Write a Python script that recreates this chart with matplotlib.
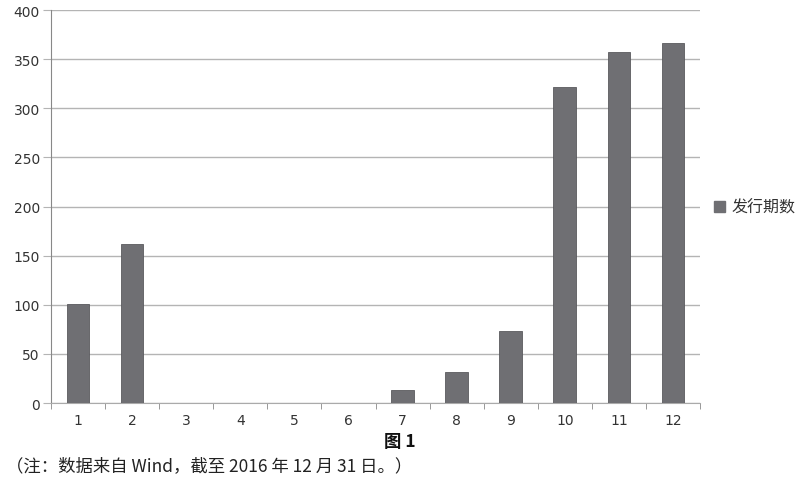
import matplotlib
matplotlib.use('Agg')
from matplotlib import pyplot as plt
from matplotlib.patches import Patch
import numpy as np

plt.rcParams['font.family'] = ['Noto Sans CJK SC', 'DejaVu Sans']

months = ['1', '2', '3', '4', '5', '6', '7', '8', '9', '10', '11', '12']
issues = [101, 162, 0, 0, 0, 0, 13, 32, 73, 322, 357, 366]
series_name = '发行期数'
y_ticks = [0, 50, 100, 150, 200, 250, 300, 350, 400]

BAR = '#6f6f73'
GRID = '#b4b4b4'

fig = plt.figure(figsize=(8, 4.89), dpi=100)
ax = fig.add_axes([0.06375, 0.1738, 0.81125, 0.8037])

x = np.arange(len(months))
ax.bar(x, issues, width=0.42, color=BAR, edgecolor='#5a5a5e', linewidth=0.6, zorder=3)

ax.set_xlim(-0.5, len(months) - 0.5)
ax.set_ylim(0, 400)
ax.set_yticks(y_ticks)
ax.set_yticklabels([str(v) for v in y_ticks], fontsize=10, color='#333333', family='DejaVu Sans')
ax.yaxis.grid(True, color=GRID, linewidth=1.0, zorder=0)
ax.tick_params(axis='y', length=6, color=GRID, pad=2)

# category labels centred, ticks on the boundaries
ax.set_xticks(x)
ax.set_xticklabels(months, fontsize=10, color='#333333', family='DejaVu Sans')
ax.tick_params(axis='x', length=0, pad=7)
ax.set_xticks(np.arange(-0.5, len(months)), minor=True)
ax.tick_params(axis='x', which='minor', length=4, color='#888888', direction='out')

for side in ['top', 'right']:
    ax.spines[side].set_visible(False)
ax.spines['left'].set_color('#888888')
ax.spines['bottom'].set_color('#aaaaaa')

handle = Patch(facecolor=BAR, edgecolor=BAR)
fig.legend([handle], [series_name], loc='center left', bbox_to_anchor=(0.874, 0.574),
           frameon=False, fontsize=11.5, handlelength=0.7, handleheight=0.7, handletextpad=0.4,
           labelcolor='#333333')

fig.text(0.5, 0.096, '图 1', ha='center', va='center', fontsize=12.5, color='#111111',
         fontweight='bold')
fig.text(0.008, 0.047, '（注：数据来自 Wind，截至 2016 年 12 月 31 日。）', ha='left', va='center',
         fontsize=12.5, color='#222222')

fig.savefig('out.png', dpi=100)
